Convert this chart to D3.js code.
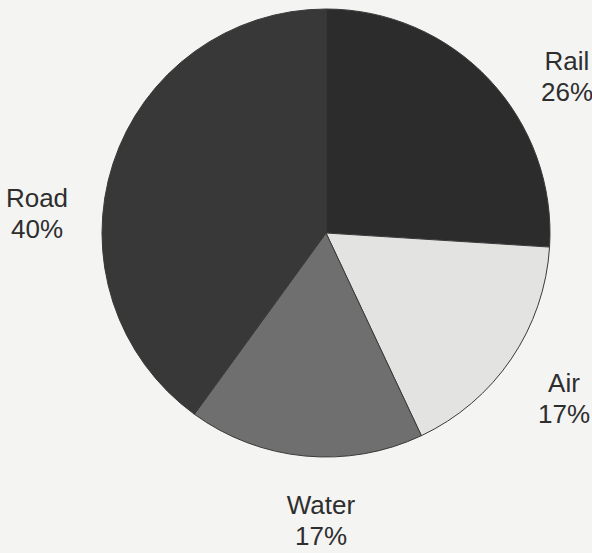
<!DOCTYPE html>
<meta charset="utf-8">
<style>
body {
  margin: 0;
  background: #f4f4f2;
}

.slice {
  stroke: #3a3a3a;
  stroke-width: 1;
}

.label {
  font-family: "Liberation Sans", Arial, sans-serif;
  font-size: 26px;
  fill: #2e2e2e;
  text-anchor: middle;
}
</style>

<svg id="chart" width="592" height="553"></svg>
<script src="https://d3js.org/d3.v7.min.js"></script>
<script>

// values, clockwise from 12 o'clock
var modes = ["Rail", "Air", "Water", "Road"];
var shares = [26, 17, 17, 40];
var shadeOf = ["#2c2c2c", "#e3e3e1", "#6f6f6f", "#383838"];
// label anchor (centre of text block), in px
var labelX = [567, 564, 321, 37];
var labelY = [70, 392, 514, 207];

var svg = d3.select("#chart"),
    cx = 326,
    cy = 233,
    radius = 224;

var slices = modes.map(function(m, i) {
  return { mode: m, share: shares[i], shade: shadeOf[i], lx: labelX[i], ly: labelY[i] };
});

var pie = d3.pie()
    .sort(null)
    .value(function(d) { return d.share; });

var arc = d3.arc()
    .innerRadius(0)
    .outerRadius(radius);

var g = svg.append("g")
    .attr("transform", "translate(" + cx + "," + cy + ")");

g.selectAll("path")
  .data(pie(slices))
  .enter()
  .append("path")
    .attr("class", "slice")
    .attr("fill", function(d) { return d.data.shade; })
    .attr("d", arc);

var labels = svg.append("g")
  .selectAll("text")
  .data(slices)
  .enter()
  .append("text")
    .attr("class", "label")
    .attr("x", function(d) { return d.lx; })
    .attr("y", function(d) { return d.ly; });

labels.append("tspan")
    .attr("x", function(d) { return d.lx; })
    .text(function(d) { return d.mode; });

labels.append("tspan")
    .attr("x", function(d) { return d.lx; })
    .attr("dy", 31)
    .text(function(d) { return d.share + "%"; });

</script>
